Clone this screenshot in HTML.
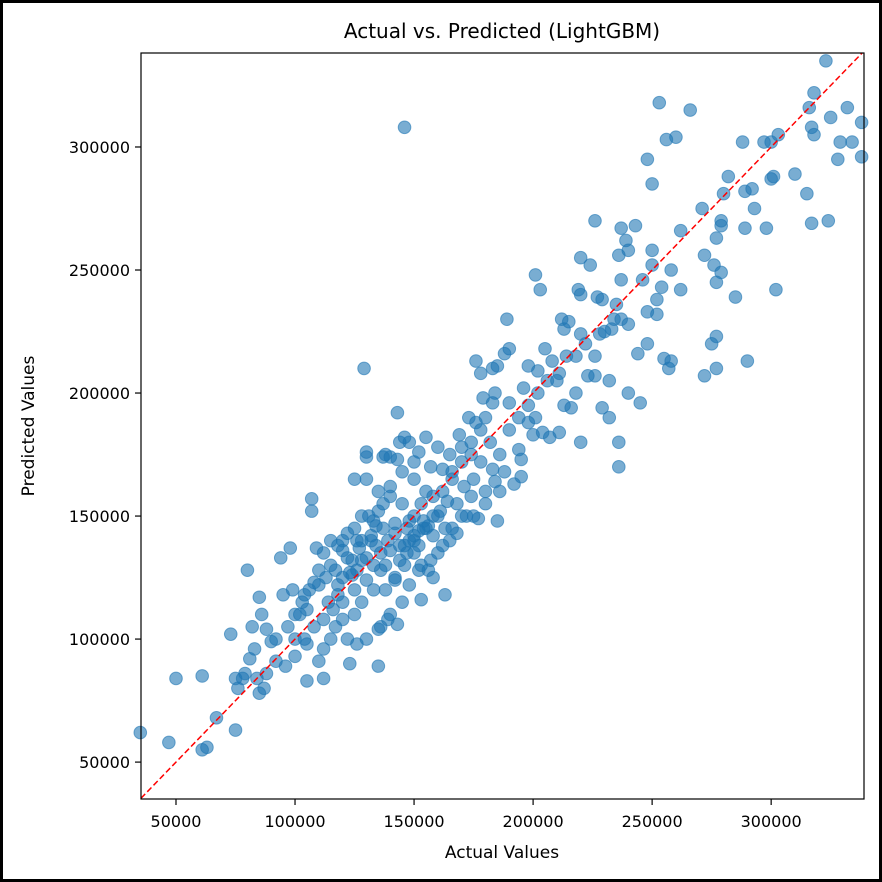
<!DOCTYPE html>
<html><head><meta charset="utf-8"><style>
html,body{margin:0;padding:0;background:#fff}
svg{display:block;font-family:"DejaVu Sans","Liberation Sans",sans-serif}
</style></head><body>
<svg id="chart" width="882" height="882" viewBox="0 0 882 882">
<rect x="1.5" y="1.5" width="879" height="879" fill="#fff" stroke="#000" stroke-width="3"/>
<text x="502" y="38" font-size="20" text-anchor="middle">Actual vs. Predicted (LightGBM)</text>
<g id="xt"></g>
<g id="yt"></g>
<g id="pts"></g>
<g id="ref"></g>
<rect x="141" y="53" width="723" height="746" fill="none" stroke="#000" stroke-width="1.2"/>
<text x="502" y="858" font-size="17" text-anchor="middle">Actual Values</text>
<text x="34" y="426" font-size="17" text-anchor="middle" transform="rotate(-90 34 426)">Predicted Values</text>
</svg>
<script>
const xTicks=[50000,100000,150000,200000,250000,300000];
const yTicks=[50000,100000,150000,200000,250000,300000];
const actual=[146,129,35,47,50,61,61,63,67,75,80,135,123,105,112,323,318,253,266,260,256,248,250,316,332,338,317,318,329,334,338,325,328,310,300,301,297,300,303,288,292,289,293,280,282,271,279,279,298,289,315,317,324,302,285,262,237,226,243,262,277,272,276,279,277,258,250,250,240,239,236,220,224,246,237,252,254,248,252,235,227,229,219,220,215,212,213,220,228,233,237,240,244,248,255,257,258,275,277,277,290,272,240,245,232,226,229,232,236,236,223,211,208,205,202,198,196,201,198,204,213,216,218,220,211,207,200,195,194,190,189,201,203,176,178,183,185,188,190,184,179,183,180,173,176,169,170,174,178,183,188,184,180,186,192,195,175,171,166,165,160,157,162,155,152,150,148,144,146,143,138,140,130,130,130,125,161,158,153,150,155,148,145,140,137,135,131,133,128,125,122,120,118,115,112,109,107,107,98,94,95,99,103,106,110,114,116,118,120,123,126,130,133,136,139,142,144,147,150,153,156,158,160,165,168,172,175,180,177,185,163,153,143,139,136,133,128,125,120,115,112,110,105,100,96,92,90,88,86,85,83,81,79,78,76,75,73,82,87,85,84,88,100,104,108,112,117,122,126,130,135,140,145,148,152,157,162,166,170,174,168,163,158,152,147,142,137,132,127,122,117,113,108,104,102,97,92,124,128,134,138,142,146,150,154,158,162,166,170,174,178,182,186,190,194,198,202,206,210,214,218,222,226,230,234,155,150,145,140,135,125,120,115,110,105,100,143,137,132,136,140,144,148,152,128,124,120,134,138,142,146,150,154,130,126,118,160,156,164];
const predicted=[308,210,62,58,84,85,55,56,68,63,128,89,90,83,84,335,322,318,315,304,303,295,285,316,316,310,308,305,302,302,296,312,295,289,287,288,302,302,305,302,283,282,275,281,288,275,270,268,267,267,281,269,270,242,239,242,267,270,268,266,263,256,252,249,245,250,258,252,258,262,256,255,252,246,246,238,243,233,232,236,239,238,242,240,229,230,226,224,224,226,230,228,216,220,214,210,213,220,223,210,213,207,200,196,205,207,194,190,180,170,207,208,213,218,209,211,202,190,188,184,195,194,200,180,184,182,183,173,177,196,230,248,242,213,208,210,211,216,218,200,198,196,190,190,188,183,178,175,172,169,168,164,160,160,163,166,165,162,165,175,178,170,169,182,176,172,180,180,182,192,175,174,176,174,165,165,152,158,155,150,145,148,155,158,155,160,150,148,150,145,143,140,138,140,135,137,152,157,137,133,118,120,115,120,122,115,112,118,125,127,128,133,130,135,140,143,138,135,140,130,128,125,135,140,143,150,150,155,149,148,118,116,106,108,105,120,115,110,108,100,96,91,98,93,89,91,99,104,110,117,96,92,86,84,80,84,102,105,80,78,84,86,110,100,105,108,105,100,98,100,104,110,115,122,128,132,138,145,150,158,155,145,142,138,145,147,145,140,137,133,128,125,123,118,110,105,100,132,140,138,130,125,130,135,145,150,160,168,172,180,185,180,175,185,190,195,200,205,205,215,215,220,215,225,230,160,165,168,162,152,120,115,130,128,112,100,173,174,142,128,136,132,140,144,132,126,136,146,120,124,138,142,148,124,140,122,150,146,156];
const X0=141,X1=864,Y0=799,Y1=53,xmin=35300,xmax=339000,ymin=35000,ymax=338200;
const sx=v=>X0+(v-xmin)/(xmax-xmin)*(X1-X0);
const sy=v=>Y0-(v-ymin)/(ymax-ymin)*(Y0-Y1);
const NS="http://www.w3.org/2000/svg";
function mk(t,a){const e=document.createElementNS(NS,t);for(const k in a)e.setAttribute(k,a[k]);return e;}
const xt=document.getElementById('xt'),yt=document.getElementById('yt'),pts=document.getElementById('pts'),ref=document.getElementById('ref');
xTicks.forEach(v=>{const x=sx(v);
 const l=mk('line',{x1:x,x2:x,y1:799,y2:805,stroke:'#000','stroke-width':1.2});
 
 
 xt.appendChild(l);
 const t=mk('text',{x:x,y:827,'font-size':16,'text-anchor':'middle'});t.textContent=v;
 
 
 xt.appendChild(t);});
yTicks.forEach(v=>{const y=sy(v);
 const l=mk('line',{x1:135,x2:141,y1:y,y2:y,stroke:'#000','stroke-width':1.2});
 
 
 yt.appendChild(l);
 const t=mk('text',{x:130,y:y+6,'font-size':16,'text-anchor':'end'});t.textContent=v;
 
 
 yt.appendChild(t);});
actual.forEach((a,i)=>{
 const c=mk('circle',{cx:sx(a*1000),cy:sy(predicted[i]*1000),r:6.3,fill:'#1f77b4','fill-opacity':0.6,stroke:'#1f77b4','stroke-opacity':0.6,'stroke-width':1});
 
 
 pts.appendChild(c);});
const lo=Math.max(xmin,ymin),hi=Math.min(xmax,ymax);
const rl=mk('line',{x1:sx(lo),y1:sy(lo),x2:sx(hi),y2:sy(hi),stroke:'#ff0000','stroke-width':1.5,'stroke-dasharray':'6,3'});


ref.appendChild(rl);
</script>
</body></html>
